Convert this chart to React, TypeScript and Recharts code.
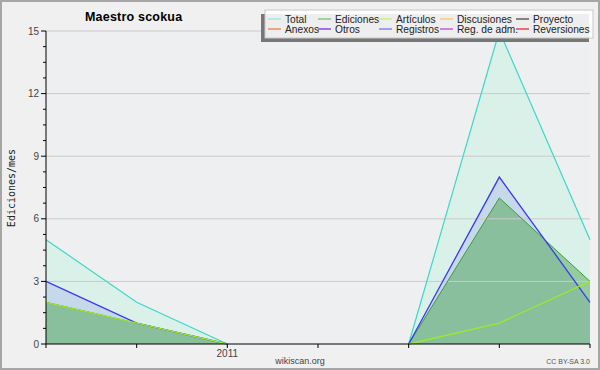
import { ComposedChart, Area, Line, XAxis, YAxis, CartesianGrid, ReferenceLine } from "recharts";

// monthly edit counts, Nov 2010 .. May 2011
const months = ["2010-11", "2010-12", "2011-01", "2011-02", "2011-03", "2011-04", "2011-05"];
const total = [5, 2, 0, null, 0, 15, 5];
const registros = [3, 1, 0, null, 0, 8, 2];
const ediciones = [2, 1, 0, null, 0, 7, 3];
const articulos = [2, 1, 0, null, 0, 1, 3];

const yTicks = [0, 0.75, 1.5, 2.25, 3, 3.75, 4.5, 5.25, 6, 6.75, 7.5, 8.25, 9, 9.75, 10.5, 11.25, 12, 12.75, 13.5, 14.25, 15];
const gridValues = [3, 6, 9, 12, 15];

const legendRow1 = ["Total", "Ediciones", "Artículos", "Discusiones", "Proyecto"];
const legendRow2 = ["Anexos", "Otros", "Registros", "Reg. de adm.", "Reversiones"];
const legendColors1 = ["#a6e6de", "#80c88c", "#c6f07c", "#f0d070", "#606060"];
const legendColors2 = ["#f08a5a", "#8a4ae0", "#8484f0", "#c45ee0", "#e04848"];
const legendCols = [285, 335, 396, 457, 533];

const font = "'Liberation Sans', Arial, sans-serif";

const YTick = (props: any) => {
  const { x, y, payload } = props;
  const v = payload.value;
  const major = Math.abs(v % 3) < 0.001;
  const ax = x + 7;
  return (
    <g>
      <line x1={ax - (major ? 5 : 3)} x2={ax} y1={y} y2={y} stroke="#000" />
      {major && (
        <text x={x} y={y} dy={3.5} textAnchor="end" fontSize={10} fill="#444" fontFamily={font}>
          {v}
        </text>
      )}
    </g>
  );
};

export default function App() {
  const data = months.map((m, i) => ({
    month: m,
    total: total[i],
    registros: registros[i],
    ediciones: ediciones[i],
    articulos: articulos[i],
  }));

  return (
    <div style={{ position: "absolute", left: 0, top: 0, width: 600, height: 370, background: "#f0f0f0" }}>
      <ComposedChart width={600} height={370} data={data} margin={{ top: 31, right: 10, bottom: 10, left: 0 }}>
        <CartesianGrid vertical={false} horizontal={false} fill="#eeeff1" stroke="none" />
        {gridValues.map((g) => (
          <ReferenceLine key={g} y={g} stroke="#cacaca" strokeWidth={1} />
        ))}
        <XAxis
          dataKey="month"
          interval={0}
          tickSize={4}
          tickLine={{ stroke: "#000" }}
          axisLine={{ stroke: "#000" }}
          tick={{ fontSize: 10, fill: "#444", fontFamily: font }}
          tickFormatter={(m: string) => (m.endsWith("-01") ? m.slice(0, 4) : "")}
          height={16}
        />
        <YAxis
          type="number"
          domain={[0, 15]}
          ticks={yTicks}
          interval={0}
          width={46}
          tickSize={5}
          tickMargin={2}
          tickLine={false}
          axisLine={{ stroke: "#000" }}
          tick={<YTick />}
        />
        <Area type="linear" dataKey="total" stroke="none" fill="#6cfcc4" fillOpacity={0.15} dot={false} activeDot={false} isAnimationActive={false} />
        <Area type="linear" dataKey="registros" stroke="none" fill="#4040f0" fillOpacity={0.13} dot={false} activeDot={false} isAnimationActive={false} />
        <Area type="linear" dataKey="ediciones" stroke="none" fill="#40a040" fillOpacity={0.45} dot={false} activeDot={false} isAnimationActive={false} />
        <Line type="linear" dataKey="total" stroke="#3cd8c8" strokeWidth={1.2} dot={false} activeDot={false} isAnimationActive={false} />
        <Line type="linear" dataKey="ediciones" stroke="#3c9c3c" strokeWidth={1} dot={false} activeDot={false} isAnimationActive={false} />
        <Line type="linear" dataKey="registros" stroke="#3a3af0" strokeWidth={1.3} dot={false} activeDot={false} isAnimationActive={false} />
        <Line type="linear" dataKey="articulos" stroke="#9ee82a" strokeWidth={1.3} dot={false} activeDot={false} isAnimationActive={false} />
      </ComposedChart>

      <svg width={600} height={370} style={{ position: "absolute", left: 0, top: 0, pointerEvents: "none" }}>
        <rect x={1} y={1} width={598} height={368} fill="none" stroke="#a6a6a6" strokeWidth={2} />
        <text x={85} y={21} fontSize={12.5} fontWeight="bold" fill="#000" fontFamily={font} letterSpacing={0.2}>
          Maestro scokua
        </text>
        <text
          x={15}
          y={188}
          transform="rotate(-90 15 188)"
          textAnchor="middle"
          fontSize={10}
          fill="#222"
          fontFamily="'DejaVu Sans Mono', monospace"
        >
          Ediciones/mes
        </text>
        <text x={300} y={364} textAnchor="middle" fontSize={9} fill="#444" fontFamily={font}>
          wikiscan.org
        </text>
        <text x={590} y={364} textAnchor="end" fontSize={7} fill="#555" fontFamily={font}>
          CC BY-SA 3.0
        </text>

        <rect x={261} y={14} width={328} height={28} fill="#777" />
        <rect x={265} y={10} width={328} height={28} fill="#fff" fillOpacity={0.88} stroke="#c8c8c8" />
        {legendRow1.map((name, i) => (
          <g key={name}>
            <line x1={legendCols[i] - 17} x2={legendCols[i] - 4} y1={19} y2={19} stroke={legendColors1[i]} strokeWidth={1.5} />
            <text x={legendCols[i]} y={22.5} fontSize={10.2} fill="#222" fontFamily={font}>
              {name}
            </text>
          </g>
        ))}
        {legendRow2.map((name, i) => (
          <g key={name}>
            <line x1={legendCols[i] - 17} x2={legendCols[i] - 4} y1={29} y2={29} stroke={legendColors2[i]} strokeWidth={1.5} />
            <text x={legendCols[i]} y={32.5} fontSize={10.2} fill="#222" fontFamily={font}>
              {name}
            </text>
          </g>
        ))}
      </svg>
    </div>
  );
}
